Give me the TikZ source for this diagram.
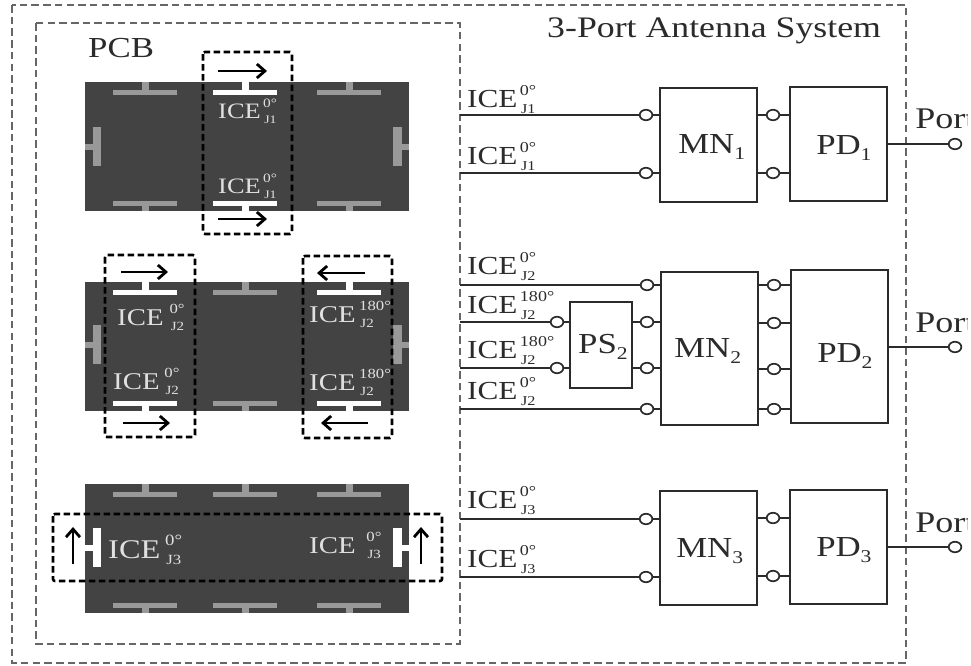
\documentclass[tikz,border=0pt]{standalone}
\usepackage{fontspec}
\setmainfont{Liberation Serif}
\usetikzlibrary{arrows.meta}
\definecolor{ink}{HTML}{2B2B2B}
\definecolor{board}{HTML}{434343}
\definecolor{slotc}{HTML}{999999}
\definecolor{dashc}{HTML}{666666}
\definecolor{lite}{HTML}{E0E0E0}
% size, subscript, superscript, gap after ICE
\newcommand{\icetxt}[4]{\fontsize{#1}{#1}\selectfont ICE\kern#4pt\rlap{\raisebox{.46em}{\fontsize{.58em}{.58em}\selectfont #3}}\rlap{\raisebox{-.24em}{\kern1pt\fontsize{.52em}{.52em}\selectfont #2}}}
\newcommand{\blk}[2]{\fontsize{29}{29}\selectfont #1\raisebox{-.22em}{\fontsize{18}{18}\selectfont #2}}
\tikzset{
 txt/.style={anchor=base west,inner sep=0pt,xscale=1.2,transform shape},
 onboard/.style={txt,text=lite},
 offboard/.style={txt,text=ink},
 boardr/.style={fill=board,draw=none},
 slotpart/.style={fill=slotc,draw=none},
 hot/.style={fill=white,draw=none},
 sysbox/.style={draw=dashc,line width=2pt,dash pattern=on 7.5pt off 4.2pt},
 icebox/.style={draw=black,line width=2.6pt,dash pattern=on 6.5pt off 3.5pt,rounded corners=2pt},
 flow/.style={draw=black,line width=2.8pt,-{Straight Barb[length=8pt,width=14pt]}},
 blockbox/.style={draw=ink,line width=1.8pt,inner sep=0pt,fill=white},
 pin/.style={circle,draw=ink,line width=1.7pt,fill=white,inner sep=0pt,minimum size=10.5pt,xscale=1.2,transform shape},
 wire/.style={draw=ink,line width=1.8pt},
}
\newcommand{\tslotH}[5]{\fill[#5] (#1-32,#3) rectangle (#1+32,#4); \fill[#5] (#1-3.5,#2) rectangle (#1+3.5,#3);}
\newcommand{\tslotV}[5]{\fill[#5] (#3,#2-19.5) rectangle (#4,#2+19.5); \fill[#5] (#1,#2-3) rectangle (#3,#2+3);}
\begin{document}
\begin{tikzpicture}[x=1pt,y=-1pt]
\useasboundingbox (0,0) rectangle (971,665);
\fill[white] (0,0) rectangle (971,665);
\clip (0,0) rectangle (967,665);
% system frames
\draw[sysbox] (12,5) rectangle (906,663);
\draw[sysbox] (36,23) rectangle (460,644);
\node[offboard] (title) at (547,37) {\fontsize{29.8}{29.8}\selectfont 3-Port Antenna System};
\node[offboard] (pcb) at (88,57) {\fontsize{29}{29}\selectfont PCB};
% boards
\fill[boardr] (85,82) rectangle (409,211);
\fill[boardr] (85,282) rectangle (409,411);
\fill[boardr] (85,484) rectangle (409,613);
% board 1 slots
\tslotH{145}{82}{90}{95}{slotpart}
\tslotH{245}{82}{90}{95}{hot}
\tslotH{349}{82}{90}{95}{slotpart}
\tslotH{145}{211}{201}{206}{slotpart}
\tslotH{245}{211}{201}{206}{hot}
\tslotH{349}{211}{201}{206}{slotpart}
\tslotV{85}{146.5}{93}{101}{slotpart}
\tslotV{409}{146.5}{402}{393}{slotpart}
% board 2 slots
\tslotH{145}{282}{290}{295}{hot}
\tslotH{245}{282}{290}{295}{slotpart}
\tslotH{349}{282}{290}{295}{hot}
\tslotH{145}{411}{401}{406}{hot}
\tslotH{245}{411}{401}{406}{slotpart}
\tslotH{349}{411}{401}{406}{hot}
\tslotV{85}{344.5}{93}{101}{slotpart}
\tslotV{409}{344.5}{402}{393}{slotpart}
% board 3 slots
\tslotH{145}{484}{492}{497}{slotpart}
\tslotH{245}{484}{492}{497}{slotpart}
\tslotH{349}{484}{492}{497}{slotpart}
\tslotH{145}{613}{603}{608}{slotpart}
\tslotH{245}{613}{603}{608}{slotpart}
\tslotH{349}{613}{603}{608}{slotpart}
\tslotV{85}{547.5}{93}{101}{hot}
\tslotV{409}{547.5}{402}{393}{hot}
% ICE frames
\draw[icebox] (203,52) rectangle (292,234);
\draw[icebox] (105,255) rectangle (195,437);
\draw[icebox] (303,256) rectangle (392,438);
\draw[icebox] (53,514) rectangle (442,581);
% arrows
\coordinate (a1s) at (218,71); \coordinate (a1e) at (267,71);
\coordinate (a2s) at (218,219); \coordinate (a2e) at (267,219);
\coordinate (a3s) at (121,272); \coordinate (a3e) at (168,272);
\coordinate (a4s) at (123,423); \coordinate (a4e) at (170,423);
\coordinate (a5s) at (365,273); \coordinate (a5e) at (317,273);
\coordinate (a6s) at (368,423); \coordinate (a6e) at (321,423);
\coordinate (a7s) at (73,564); \coordinate (a7e) at (73,527);
\coordinate (a8s) at (421,564); \coordinate (a8e) at (421,527);
\foreach \i in {1,...,8} {\draw[flow] (a\i s) -- (a\i e);}
% board labels
\node[onboard] (b1t) at (218,118) {\icetxt{22}{J1}{0°}{2}};
\node[onboard] (b1b) at (218,193) {\icetxt{22}{J1}{0°}{2}};
\node[onboard] (b2a) at (117,325) {\icetxt{24}{J2}{0°}{5}};
\node[onboard] (b2b) at (113,389) {\icetxt{24}{J2}{0°}{4}};
\node[onboard] (b2c) at (309,322) {\icetxt{24}{J2}{180°}{3}};
\node[onboard] (b2d) at (309,390) {\icetxt{24}{J2}{180°}{3}};
\node[onboard] (b3a) at (108,558) {\icetxt{27}{J3}{0°}{4}};
\node[onboard] (b3b) at (309,553) {\icetxt{24}{J3}{0°}{9}};
% blocks
\node[blockbox,minimum width=97pt,minimum height=114pt] (mn1) at (708.5,145) {};
\node[blockbox,minimum width=97pt,minimum height=114pt] (pd1) at (838.5,144) {};
\node[blockbox,minimum width=62pt,minimum height=86pt] (ps2) at (601,345) {};
\node[blockbox,minimum width=97pt,minimum height=153pt] (mn2) at (709.5,348.5) {};
\node[blockbox,minimum width=97pt,minimum height=153pt] (pd2) at (839.5,346.5) {};
\node[blockbox,minimum width=97pt,minimum height=114pt] (mn3) at (708.5,548) {};
\node[blockbox,minimum width=97pt,minimum height=114pt] (pd3) at (838.5,547) {};
\node[offboard] (mn1t) at (678,153) {\blk{MN}{1}};
\node[offboard] (pd1t) at (816,154) {\blk{PD}{1}};
\node[offboard] (ps2t) at (578,353) {\blk{PS}{2}};
\node[offboard] (mn2t) at (674,357) {\blk{MN}{2}};
\node[offboard] (pd2t) at (817,362) {\blk{PD}{2}};
\node[offboard] (mn3t) at (676,557) {\blk{MN}{3}};
\node[offboard] (pd3t) at (816,556) {\blk{PD}{3}};
% wire ends on PCB
\coordinate (e1) at (460,115); \coordinate (e2) at (460,173);
\coordinate (e3) at (460,285); \coordinate (e4) at (460,322);
\coordinate (e5) at (460,368); \coordinate (e6) at (460,409);
\coordinate (e7) at (460,519); \coordinate (e8) at (460,577);
% pins
\foreach \n/\x/\y in {p1/646/115,p2/646/173,q1/773/115,q2/773/173,
 p3/647/285,p4/557/322,p5/557/368,p6/647/409,r1/647/322,r2/647/368,
 q3/774/285,q4/774/323,q5/774/369,q6/774/409,
 p7/646/519,p8/646/577,q7/773/518,q8/773/576,
 o1/955/144,o2/955/347,o3/955/547}
 {\node[pin] (\n) at (\x,\y) {};}
% wires
\draw[wire] (e1) -- (p1); \draw[wire] (e2) -- (p2);
\draw[wire] (e3) -- (p3); \draw[wire] (e4) -- (p4);
\draw[wire] (e5) -- (p5); \draw[wire] (e6) -- (p6);
\draw[wire] (e7) -- (p7); \draw[wire] (e8) -- (p8);
\foreach \p/\b in {p1/mn1,p2/mn1,p3/mn2,p6/mn2,r1/mn2,r2/mn2,p7/mn3,p8/mn3}
 {\draw[wire] (\p) -- (\p -| \b.west);}
\foreach \p in {p4,p5} {\draw[wire] (\p) -- (\p -| ps2.west);}
\foreach \p in {r1,r2} {\draw[wire] (\p) -- (\p -| ps2.east);}
\foreach \p/\a/\b in {q1/mn1/pd1,q2/mn1/pd1,q3/mn2/pd2,q4/mn2/pd2,q5/mn2/pd2,q6/mn2/pd2,q7/mn3/pd3,q8/mn3/pd3}
 {\draw[wire] (\p -| \a.east) -- (\p); \draw[wire] (\p) -- (\p -| \b.west);}
\foreach \o/\b in {o1/pd1,o2/pd2,o3/pd3} {\draw[wire] (\o -| \b.east) -- (\o);}
% wire labels
\node[offboard] (w1) at (467,107) {\icetxt{26}{J1}{0°}{2}};
\node[offboard] (w2) at (467,164) {\icetxt{26}{J1}{0°}{2}};
\node[offboard] (w3) at (467,274) {\icetxt{26}{J2}{0°}{2}};
\node[offboard] (w4) at (467,313) {\icetxt{26}{J2}{180°}{2}};
\node[offboard] (w5) at (467,358) {\icetxt{26}{J2}{180°}{2}};
\node[offboard] (w6) at (467,399) {\icetxt{26}{J2}{0°}{2}};
\node[offboard] (w7) at (467,508) {\icetxt{26}{J3}{0°}{2}};
\node[offboard] (w8) at (467,567) {\icetxt{26}{J3}{0°}{2}};
\node[offboard] (port1) at (915,128) {\fontsize{30}{30}\selectfont Port};
\node[offboard] (port2) at (915,332) {\fontsize{30}{30}\selectfont Port};
\node[offboard] (port3) at (915,532) {\fontsize{30}{30}\selectfont Port};
\end{tikzpicture}
\end{document}
